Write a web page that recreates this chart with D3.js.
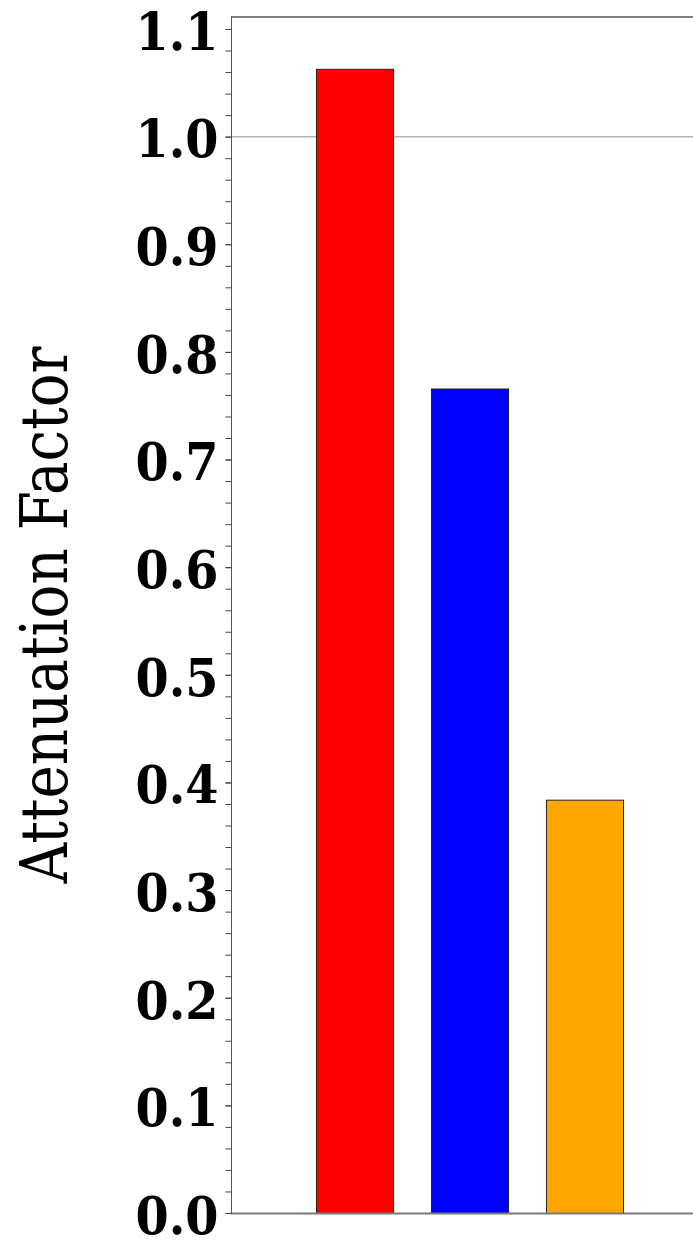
<!DOCTYPE html>
<html>
<head>
<meta charset="utf-8">
<script src="https://cdn.jsdelivr.net/npm/d3@7"></script>
<style>
  html, body { margin: 0; padding: 0; background: #fff; }
  svg { display: block; }
</style>
</head>
<body>
<svg id="chart" width="693" height="1246"></svg>
<script>
const categories = ["A", "B", "C"];
const values = [1.063, 0.766, 0.384];
const barColors = ["#ff0000", "#0000ff", "#ffa500"];
const majorTicks = [0.0, 0.1, 0.2, 0.3, 0.4, 0.5, 0.6, 0.7, 0.8, 0.9, 1.0, 1.1];
const tickLabels = ["0.0", "0.1", "0.2", "0.3", "0.4", "0.5", "0.6", "0.7", "0.8", "0.9", "1.0", "1.1"];
const referenceValue = 1.0;
const yTitle = "Attenuation Factor";

const W = 693, H = 1246;
const plotLeft = 231, plotTop = 17, plotBottom = 1213, plotRight = 708;

const svg = d3.select("#chart");

const y = d3.scaleLinear().domain([0, 1.1]).range([plotBottom, 29]);
const x = d3.scaleBand().domain(categories).range([plotLeft, plotRight])
  .paddingInner(0.33).paddingOuter(0.739);

// reference line
svg.append("line")
  .attr("x1", plotLeft).attr("x2", W + 20)
  .attr("y1", y(referenceValue)).attr("y2", y(referenceValue))
  .attr("stroke", "#b4b4b4").attr("stroke-width", 1.5);

// bars
svg.append("g").selectAll("rect")
  .data(categories)
  .join("rect")
  .attr("x", d => x(d) + 0.5)
  .attr("y", (d, i) => y(values[i]) + 0.5)
  .attr("width", x.bandwidth())
  .attr("height", (d, i) => y(0) - y(values[i]))
  .attr("fill", (d, i) => barColors[i])
  .attr("stroke", "#222")
  .attr("stroke-width", 1);

// frame top & bottom
svg.append("line").attr("x1", plotLeft).attr("x2", W + 20)
  .attr("y1", plotTop).attr("y2", plotTop)
  .attr("stroke", "#808080").attr("stroke-width", 2);
svg.append("line").attr("x1", plotLeft).attr("x2", W + 20)
  .attr("y1", plotBottom + 0.5).attr("y2", plotBottom + 0.5)
  .attr("stroke", "#7a7a7a").attr("stroke-width", 2);

// minor ticks
const minorTicks = d3.range(0, 56).map(i => i * 0.02).filter(v => v <= 1.1001);
const yMinor = d3.axisLeft(y).tickValues(minorTicks).tickSize(6).tickFormat("");
const gMinor = svg.append("g").attr("transform", `translate(${plotLeft + 0.5},0)`).call(yMinor);
gMinor.select(".domain").remove();
gMinor.selectAll(".tick line").attr("stroke", "#444");

// major axis
const yAxis = d3.axisLeft(y).tickValues(majorTicks).tickSize(6).tickPadding(7)
  .tickFormat((d, i) => tickLabels[i]);
const gAxis = svg.append("g").attr("transform", `translate(${plotLeft + 0.5},0)`).call(yAxis);
gAxis.select(".domain").attr("stroke", "#555").attr("d", `M0,${plotTop}V${plotBottom + 1}`);
gAxis.selectAll(".tick line").attr("stroke", "#444");
gAxis.selectAll(".tick text")
  .attr("fill", "#000")
  .attr("dy", "20.3px")
  .style("font-family", "'DejaVu Serif Condensed', 'DejaVu Serif', serif")
  .style("font-stretch", "condensed")
  .style("font-weight", "bold")
  .style("font-size", "53px");

// y title
svg.append("text")
  .attr("transform", `translate(67,${(plotTop + plotBottom) / 2 + 0}) rotate(-90)`)
  .attr("text-anchor", "middle")
  .attr("textLength", 537)
  .attr("lengthAdjust", "spacingAndGlyphs")
  .style("font-family", "'DejaVu Serif', serif")
  .style("font-size", "66px")
  .style("fill", "#000")
  .text(yTitle);
</script>
</body>
</html>
